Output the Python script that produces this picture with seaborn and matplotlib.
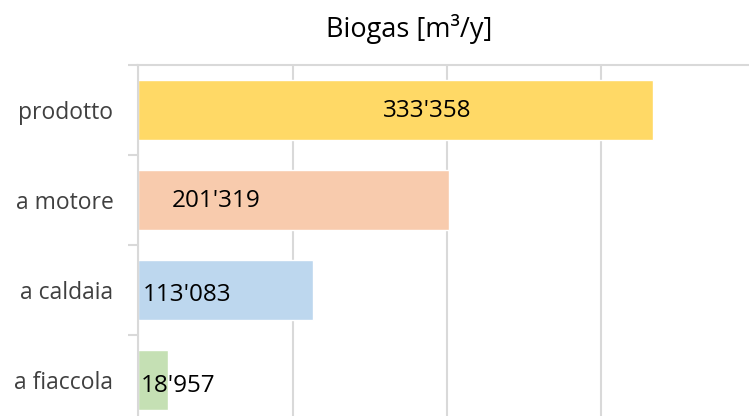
import matplotlib
matplotlib.use("Agg")
import matplotlib.pyplot as plt
import seaborn as sns
import pandas as pd
from matplotlib.ticker import FixedLocator, MultipleLocator

# Annual biogas volumes by destination
categories = ["prodotto", "a motore", "a caldaia", "a fiaccola"]
volumes = [333358, 201319, 113083, 18957]
value_labels = ["333'358", "201'319", "113'083", "18'957"]
bar_colors = ["#FFD966", "#F8CBAD", "#BDD7EE", "#C5E0B4"]

# Where each value label starts along the value axis, and its vertical nudge (pt)
label_start = [158500, 21700, 2900, 1600]
label_nudge = [-0.8, -0.8, -3.4, -4.2]

sns.set_style("white")
plt.rcParams["font.family"] = ["Open Sans", "DejaVu Sans"]

df = pd.DataFrame({"categoria": categories, "biogas": volumes})

fig = plt.figure(figsize=(7.49, 4.16), dpi=100)
ax = fig.add_axes([0.1849, -0.0216, 0.8240, 0.8654])

sns.barplot(data=df, x="biogas", y="categoria", hue="categoria",
            order=categories, hue_order=categories, palette=bar_colors,
            width=0.667, saturation=1, legend=False, ax=ax, zorder=2)

grid_col = "#D9D9D9"
ax.set_xlim(0, 400000)
ax.set_ylim(3.5, -0.5)
ax.xaxis.set_major_locator(MultipleLocator(100000))
ax.grid(axis="x", color=grid_col, lw=1.5)
ax.grid(axis="y", visible=False)
ax.set_axisbelow(True)

for side in ("right", "bottom"):
    ax.spines[side].set_visible(False)
for side in ("left", "top"):
    ax.spines[side].set_visible(True)
    ax.spines[side].set_color(grid_col)
    ax.spines[side].set_linewidth(1.5)

ax.tick_params(axis="x", which="both", length=0, labelbottom=False, labeltop=False)
ax.tick_params(axis="y", which="major", length=0, pad=18, labelsize=16.5,
               labelcolor="#404040")
ax.yaxis.set_minor_locator(FixedLocator([-0.5, 0.5, 1.5, 2.5, 3.5]))
ax.tick_params(axis="y", which="minor", left=True, length=7.2, width=1.5,
               color=grid_col)
ax.set_xlabel("")
ax.set_ylabel("")

for i, (txt, x0, dy) in enumerate(zip(value_labels, label_start, label_nudge)):
    ax.annotate(txt, xy=(x0, i), xytext=(0, dy), textcoords="offset points",
                ha="left", va="center", fontsize=17.5, color="black", zorder=5)

fig.text(409 / 749, 1 - 37 / 416, "Biogas [m³/y]", ha="center", va="baseline",
         fontsize=19.5, color="black")

fig.savefig("out.png", dpi=100)
